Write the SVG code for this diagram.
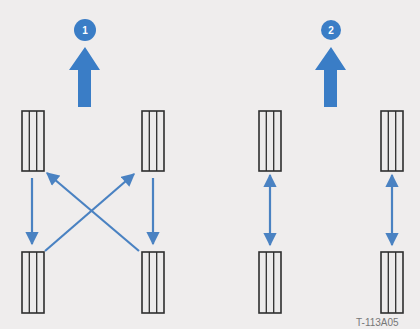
<svg xmlns="http://www.w3.org/2000/svg" width="420" height="329" viewBox="0 0 420 329">
<style>
.tire rect{fill:#ecebeb;stroke:#2e2e2e;stroke-width:1.6}
.tire line{stroke:#2e2e2e;stroke-width:1.3}
.conn line{stroke:#4a82c2;stroke-width:2.2}
.big{fill:#3a7dc6}
.num{fill:#fff;font-family:"Liberation Sans",Arial,sans-serif;font-size:10px;font-weight:bold;text-anchor:middle}
.lbl{fill:#777;font-family:"Liberation Sans",Arial,sans-serif;font-size:10px}
</style>
<defs>
<marker id="ah" viewBox="0 0 10 10" refX="9" refY="5" markerWidth="6.5" markerHeight="6" markerUnits="strokeWidth" orient="auto-start-reverse">
<path d="M0,0 L10,5 L0,10 Z" fill="#4a82c2"/>
</marker>
</defs>
<rect width="420" height="329" fill="#efeded"/>
<g id="badge1"><circle cx="85" cy="30" r="11" class="big"/><text x="85" y="34" class="num">1</text></g>
<g id="badge2"><circle cx="331" cy="30" r="10" class="big"/><text x="331" y="34" class="num">2</text></g>
<g id="forward1"><path class="big" d="M85,47 L100,70 L91,70 L91,107 L78,107 L78,70 L69,70 Z"/></g>
<g id="forward2"><path class="big" d="M331,47 L346,70 L337,70 L337,107 L324,107 L324,70 L315,70 Z"/></g>
<g id="tire-fl1" class="tire"><rect x="22" y="111" width="22" height="60"/><line x1="29.3" y1="111" x2="29.3" y2="171"/><line x1="36.7" y1="111" x2="36.7" y2="171"/></g>
<g id="tire-fr1" class="tire"><rect x="142" y="111" width="22" height="60"/><line x1="149.3" y1="111" x2="149.3" y2="171"/><line x1="156.7" y1="111" x2="156.7" y2="171"/></g>
<g id="tire-rl1" class="tire"><rect x="22" y="252" width="22" height="61"/><line x1="29.3" y1="252" x2="29.3" y2="313"/><line x1="36.7" y1="252" x2="36.7" y2="313"/></g>
<g id="tire-rr1" class="tire"><rect x="142" y="252" width="22" height="61"/><line x1="149.3" y1="252" x2="149.3" y2="313"/><line x1="156.7" y1="252" x2="156.7" y2="313"/></g>
<g id="tire-fl2" class="tire"><rect x="259" y="111" width="22" height="60"/><line x1="266.3" y1="111" x2="266.3" y2="171"/><line x1="273.7" y1="111" x2="273.7" y2="171"/></g>
<g id="tire-fr2" class="tire"><rect x="381" y="111" width="22" height="60"/><line x1="388.3" y1="111" x2="388.3" y2="171"/><line x1="395.7" y1="111" x2="395.7" y2="171"/></g>
<g id="tire-rl2" class="tire"><rect x="259" y="252" width="22" height="61"/><line x1="266.3" y1="252" x2="266.3" y2="313"/><line x1="273.7" y1="252" x2="273.7" y2="313"/></g>
<g id="tire-rr2" class="tire"><rect x="381" y="252" width="22" height="61"/><line x1="388.3" y1="252" x2="388.3" y2="313"/><line x1="395.7" y1="252" x2="395.7" y2="313"/></g>
<g id="connectors" class="conn">
<line x1="32" y1="178" x2="32" y2="244" marker-end="url(#ah)"/>
<line x1="153" y1="178" x2="153" y2="244" marker-end="url(#ah)"/>
<line x1="45" y1="251" x2="134" y2="174" marker-end="url(#ah)"/>
<line x1="139" y1="251" x2="47" y2="173" marker-end="url(#ah)"/>
<line x1="270" y1="175" x2="270" y2="245" marker-start="url(#ah)" marker-end="url(#ah)"/>
<line x1="392" y1="175" x2="392" y2="245" marker-start="url(#ah)" marker-end="url(#ah)"/>
</g>
<text x="356" y="326" class="lbl">T-113A05</text>
</svg>
